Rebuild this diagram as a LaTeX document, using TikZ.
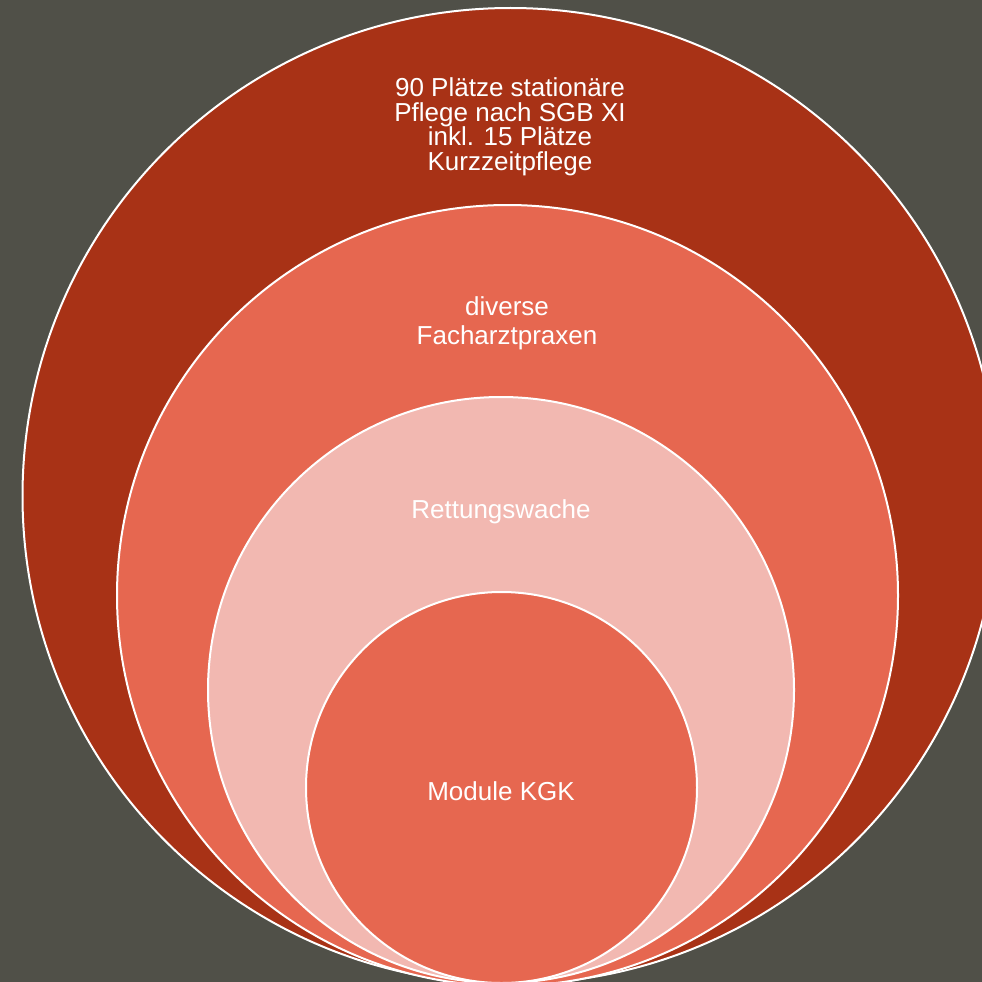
\documentclass[tikz,border=0pt]{standalone}
\usepackage{fontspec}
\setmainfont{Liberation Sans}
\definecolor{bg}{HTML}{505048}
\definecolor{dark}{HTML}{A83216}
\definecolor{mid}{HTML}{E66750}
\definecolor{light}{HTML}{F2B8B1}
\begin{document}
\begin{tikzpicture}[x=1pt,y=-1pt,
  ring/.style={circle,draw=white,line width=2pt,inner sep=0pt},
  lbl/.style={text=white,align=center,inner sep=0pt,font=\fontsize{26}{24.5}\selectfont}]
\useasboundingbox (0,0) rectangle (982,982);
\fill[bg] (0,0) rectangle (982,982);
\clip (0,0) rectangle (982,982);
\node[ring,fill=dark,minimum size=976pt] (c1) at (510.5,496) {};
\node[ring,fill=mid,minimum size=781pt] (c2) at (507.5,595.5) {};
\node[ring,fill=light,minimum size=586pt] (c3) at (501,690) {};
\node[ring,fill=mid,minimum size=391pt] (c4) at (501.5,787.5) {};
\node[lbl] (t1) at (510,127) {90 Plätze stationäre\\Pflege nach SGB XI\\inkl. 15 Plätze\\Kurzzeitpflege};
\node[lbl] (t2) at (507,323) {diverse\\[4.5pt]Facharztpraxen};
\node[lbl] (t3) at (501,512) {Rettungswache};
\node[lbl] (t4) at (501,791) {Module KGK};
\end{tikzpicture}
\end{document}
